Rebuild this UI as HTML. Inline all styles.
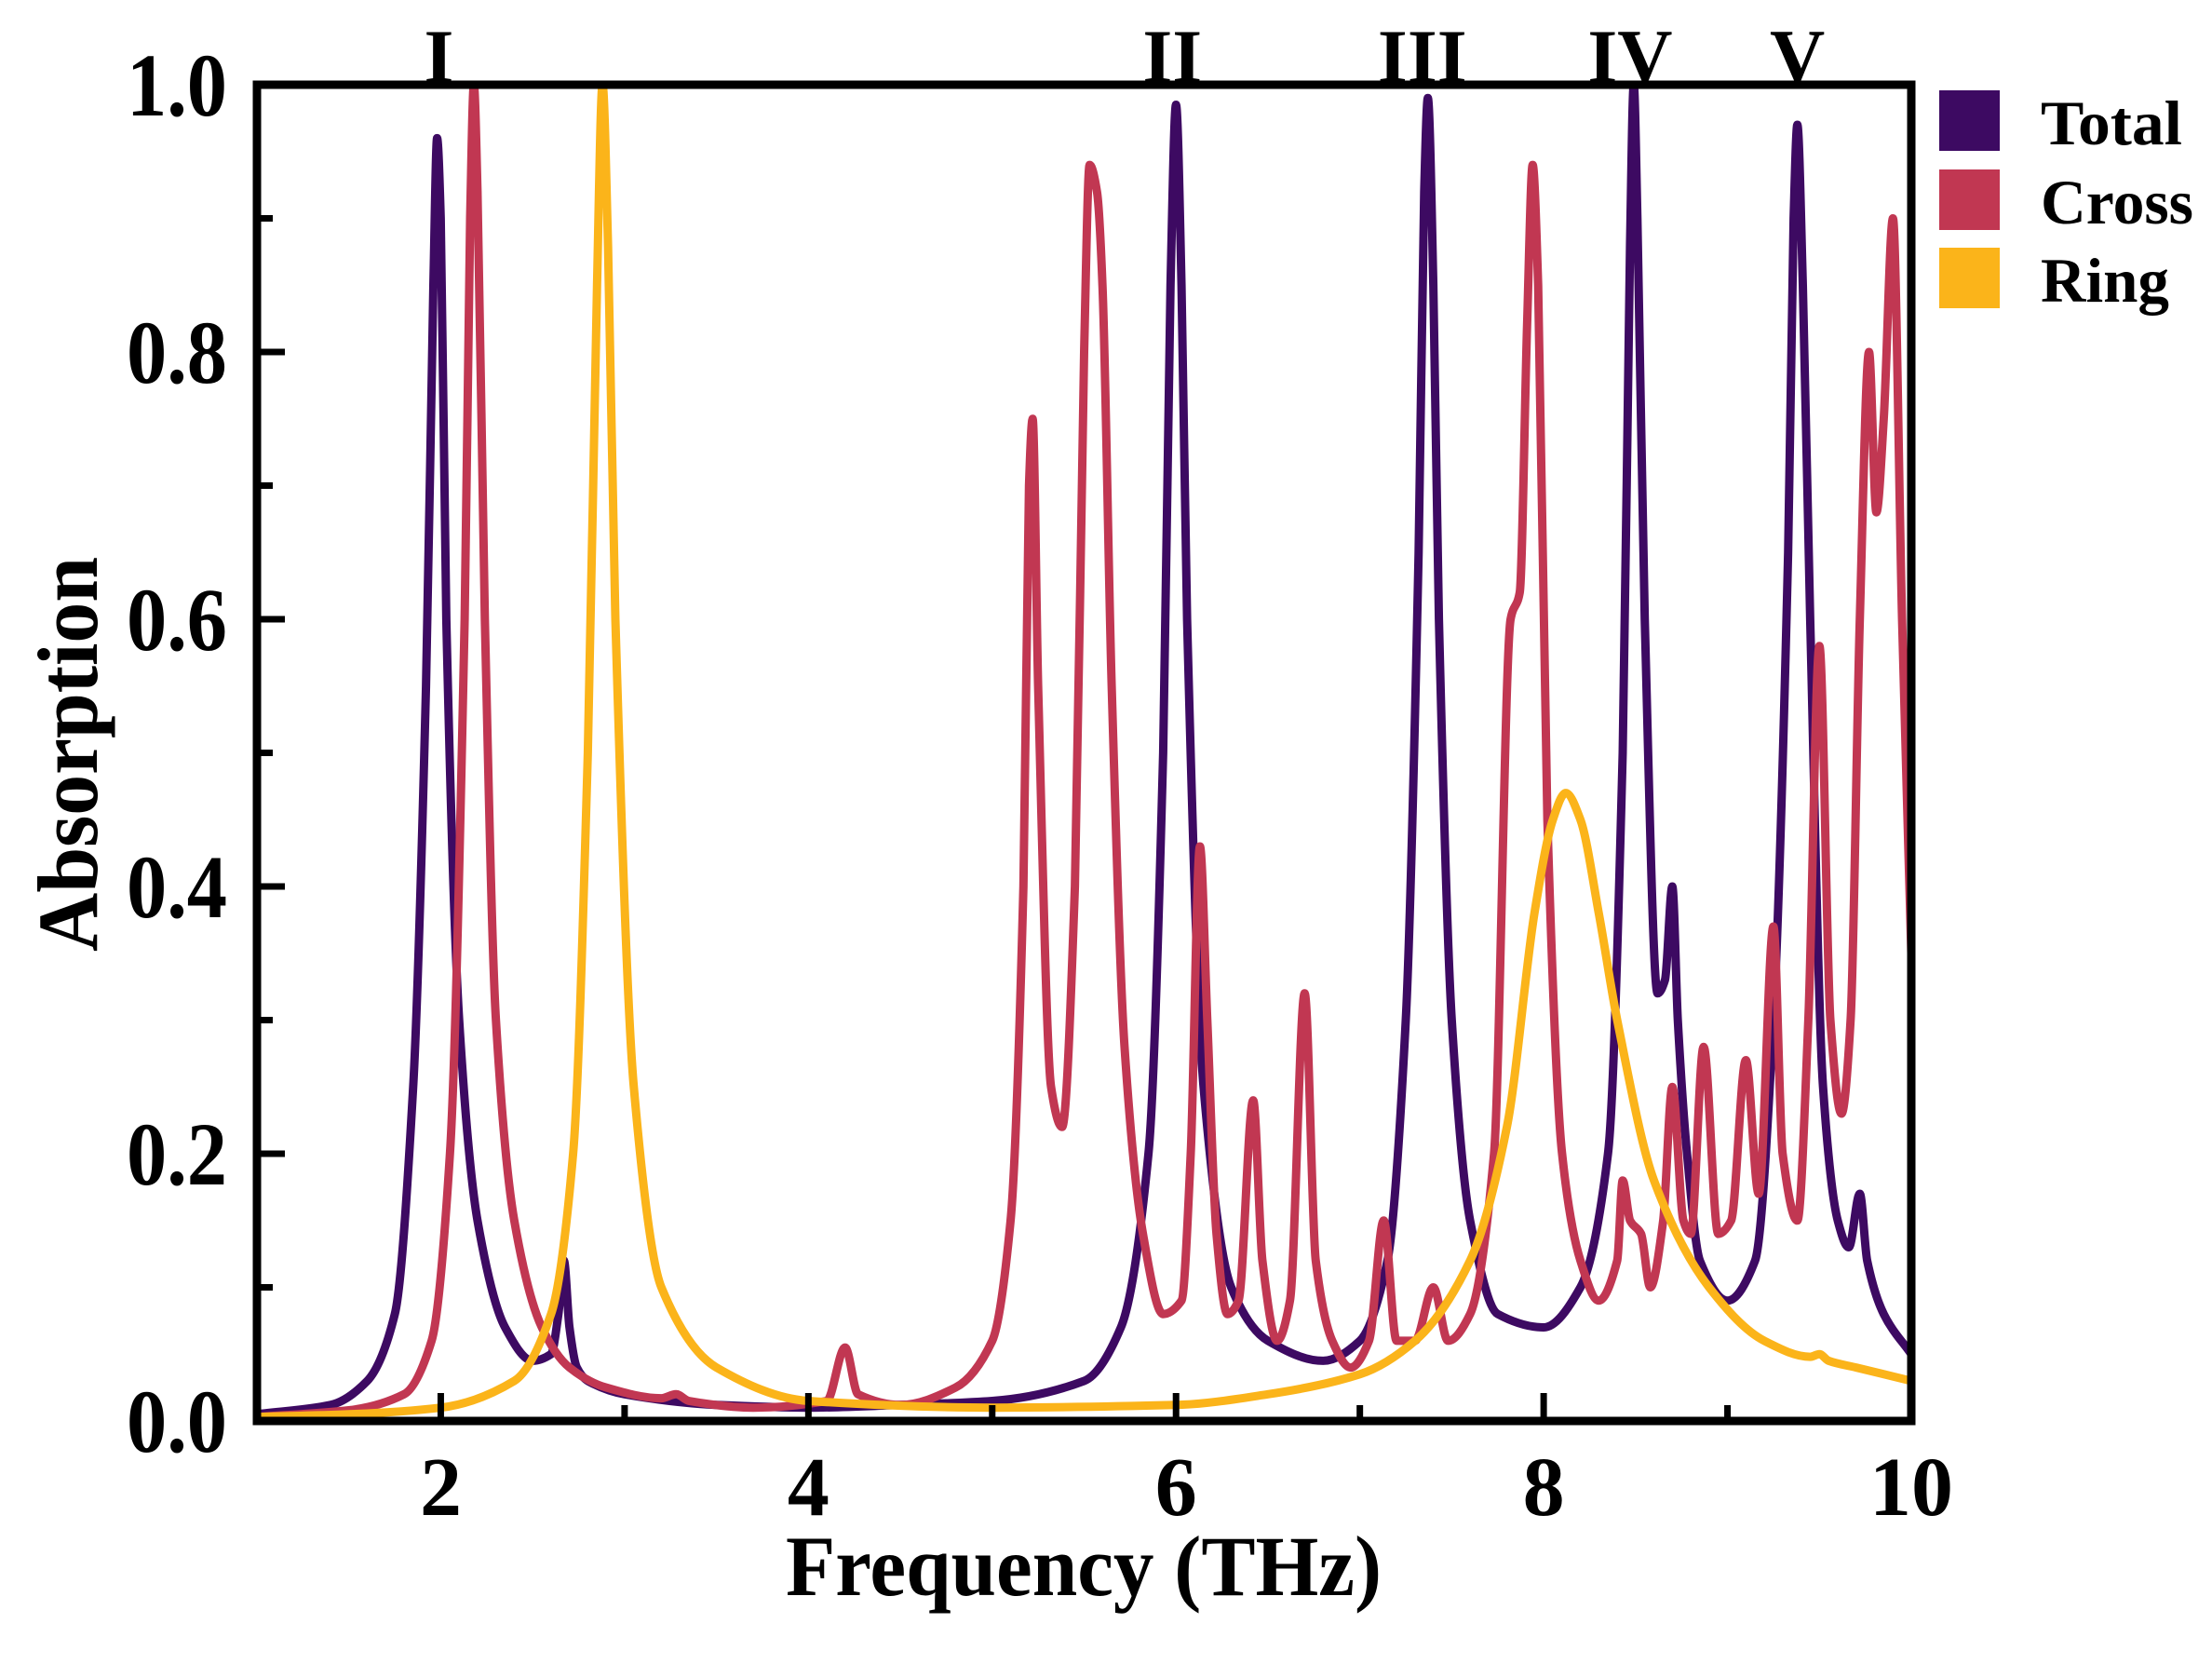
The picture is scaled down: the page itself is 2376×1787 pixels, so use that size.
<!DOCTYPE html>
<html><head><meta charset="utf-8">
<style>html,body{margin:0;padding:0;background:#fff;}svg{display:block;}</style>
</head><body>
<svg id="chart" width="2376" height="1787" viewBox="0 0 2376 1787" xmlns="http://www.w3.org/2000/svg" font-family="'Liberation Serif', serif" font-weight="bold">
<defs><clipPath id="plotclip"><rect x="276" y="91" width="1777" height="1435"/></clipPath></defs>
<g id="series" clip-path="url(#plotclip)"></g>
<g id="axes"></g>
<text x="1164" y="1713" text-anchor="middle" font-size="92" textLength="640" lengthAdjust="spacingAndGlyphs">Frequency (THz)</text>
<text transform="translate(104,810) rotate(-90)" text-anchor="middle" font-size="92" textLength="424" lengthAdjust="spacingAndGlyphs">Absorption</text>
<g id="legend">
<rect x="2083" y="97" width="65" height="65" fill="#3d0a62"/>
<text x="2192" y="155" font-size="68" textLength="152" lengthAdjust="spacingAndGlyphs">Total</text>
<rect x="2083" y="182" width="65" height="65" fill="#c13752"/>
<text x="2192" y="240" font-size="68" textLength="164" lengthAdjust="spacingAndGlyphs">Cross</text>
<rect x="2083" y="266" width="65" height="65" fill="#fbb41a"/>
<text x="2192" y="324" font-size="68" textLength="138" lengthAdjust="spacingAndGlyphs">Ring</text>
</g>
</svg>
<script>
const xTicks = [2, 4, 6, 8, 10];
const xMinor = [1, 3, 5, 7, 9];
const yTicks = [0.0, 0.2, 0.4, 0.6, 0.8, 1.0];
const yTickLabels = ["0.0", "0.2", "0.4", "0.6", "0.8", "1.0"];
const yMinor = [0.1, 0.3, 0.5, 0.7, 0.9];
const modeLabels = ["I", "II", "III", "IV", "V"];
const modeFreqs = [1.99, 5.98, 7.34, 8.47, 9.38];

const totalX = [1.0,1.4,1.6,1.75,1.85,1.92,1.96,1.98,2.0,2.03,2.1,2.2,2.35,2.5,2.6,2.64,2.67,2.7,2.74,2.8,3.0,3.5,4.0,4.5,5.0,5.5,5.7,5.85,5.93,5.97,6.0,6.03,6.06,6.15,6.3,6.5,6.8,7.0,7.15,7.25,7.32,7.35,7.37,7.4,7.43,7.5,7.6,7.75,8.0,8.2,8.35,8.43,8.47,8.49,8.51,8.55,8.62,8.66,8.7,8.73,8.78,8.85,9.0,9.15,9.25,9.33,9.36,9.38,9.41,9.45,9.52,9.6,9.66,9.72,9.76,9.85,10.0];
const totalY = [0.005,0.012,0.03,0.08,0.25,0.55,0.85,0.96,0.9,0.6,0.3,0.15,0.07,0.045,0.05,0.08,0.12,0.07,0.04,0.03,0.02,0.012,0.01,0.012,0.015,0.03,0.07,0.2,0.5,0.85,0.985,0.85,0.6,0.25,0.1,0.06,0.045,0.06,0.12,0.3,0.65,0.92,0.99,0.85,0.6,0.3,0.15,0.08,0.07,0.1,0.2,0.5,0.88,1.0,0.9,0.6,0.32,0.33,0.4,0.3,0.2,0.12,0.09,0.12,0.3,0.65,0.9,0.97,0.85,0.6,0.25,0.15,0.13,0.17,0.12,0.08,0.05];

const crossX = [1.0,1.5,1.8,1.95,2.05,2.13,2.16,2.18,2.2,2.24,2.3,2.4,2.55,2.7,2.9,3.2,3.28,3.35,3.7,4.1,4.2,4.27,4.5,4.8,5.0,5.1,5.17,5.2,5.22,5.25,5.32,5.38,5.45,5.5,5.53,5.57,5.6,5.65,5.72,5.82,5.93,6.03,6.08,6.13,6.17,6.22,6.28,6.34,6.42,6.47,6.55,6.62,6.7,6.76,6.85,6.95,7.05,7.13,7.2,7.3,7.4,7.48,7.6,7.73,7.82,7.87,7.91,7.94,7.97,8.02,8.1,8.2,8.3,8.4,8.43,8.47,8.53,8.58,8.65,8.7,8.76,8.8,8.87,8.95,9.02,9.1,9.17,9.25,9.3,9.38,9.44,9.5,9.56,9.62,9.67,9.72,9.77,9.81,9.85,9.9,9.95,10.0];
const crossY = [0.003,0.008,0.02,0.06,0.2,0.6,0.9,1.0,0.92,0.6,0.3,0.15,0.07,0.04,0.025,0.017,0.02,0.015,0.01,0.015,0.055,0.02,0.012,0.025,0.06,0.15,0.4,0.7,0.75,0.55,0.25,0.22,0.4,0.8,0.94,0.92,0.85,0.55,0.28,0.14,0.08,0.09,0.2,0.43,0.3,0.14,0.08,0.09,0.24,0.12,0.06,0.09,0.32,0.12,0.06,0.04,0.06,0.15,0.06,0.06,0.1,0.06,0.08,0.2,0.6,0.62,0.82,0.94,0.85,0.45,0.2,0.12,0.09,0.12,0.18,0.15,0.14,0.1,0.15,0.25,0.15,0.14,0.28,0.14,0.15,0.27,0.17,0.37,0.2,0.15,0.3,0.58,0.3,0.23,0.3,0.6,0.8,0.68,0.75,0.9,0.6,0.35];

const ringX = [1.0,1.5,2.0,2.4,2.6,2.72,2.8,2.85,2.88,2.91,2.95,3.05,3.2,3.5,4.0,5.0,6.0,6.5,7.0,7.3,7.6,7.8,7.95,8.05,8.12,8.2,8.3,8.4,8.6,8.9,9.2,9.45,9.5,9.55,9.7,10.0];
const ringY = [0.003,0.005,0.01,0.03,0.08,0.2,0.5,0.85,1.0,0.88,0.6,0.25,0.1,0.04,0.015,0.01,0.012,0.02,0.035,0.06,0.12,0.22,0.38,0.45,0.47,0.45,0.38,0.3,0.18,0.1,0.06,0.048,0.05,0.045,0.04,0.03];

const X0 = 276, X1 = 2053, Y0 = 1526, Y1 = 91;
function sx(v){ return X0 + (v - 1) / 9 * (X1 - X0); }
function sy(v){ return Y0 - v * (Y0 - Y1); }
const NS = "http://www.w3.org/2000/svg";

function monoPath(xs, ys){
  const n = xs.length, px = xs.map(sx), py = ys.map(sy);
  const d = [], m = new Array(n);
  for (let i = 0; i < n - 1; i++) d.push((py[i+1]-py[i])/(px[i+1]-px[i]));
  m[0] = d[0]; m[n-1] = d[n-2];
  for (let i = 1; i < n - 1; i++) m[i] = (d[i-1]*d[i] <= 0) ? 0 : (2/(1/d[i-1]+1/d[i]));
  let s = "M" + px[0].toFixed(1) + "," + py[0].toFixed(1);
  for (let i = 0; i < n - 1; i++) {
    const h = px[i+1]-px[i];
    s += " C" + (px[i]+h/3).toFixed(1) + "," + (py[i]+m[i]*h/3).toFixed(1) + " " + (px[i+1]-h/3).toFixed(1) + "," + (py[i+1]-m[i+1]*h/3).toFixed(1) + " " + px[i+1].toFixed(1) + "," + py[i+1].toFixed(1);
  }
  return s;
}
const series = document.getElementById('series');
function addLine(xs, ys, color, name){
  const p = document.createElementNS(NS, 'path');
  p.setAttribute('d', monoPath(xs, ys));
  p.setAttribute('fill', 'none');
  p.setAttribute('stroke', color);
  p.setAttribute('stroke-width', '9');
  p.setAttribute('stroke-linejoin', 'round');
  
  
  series.appendChild(p);
}
addLine(totalX, totalY, '#3d0a62', 'total-line');
addLine(crossX, crossY, '#c13752', 'cross-line');
addLine(ringX, ringY, '#fbb41a', 'ring-line');

const axes = document.getElementById('axes');
function mk(tag, attrs){ const e = document.createElementNS(NS, tag); for (const k in attrs) e.setAttribute(k, attrs[k]); axes.appendChild(e); return e; }
const frame = mk('rect', {x: X0, y: Y1, width: X1 - X0, height: Y0 - Y1, fill: 'none', stroke: '#000', 'stroke-width': 9});


xTicks.forEach(v => {
  const t = mk('line', {x1: sx(v), x2: sx(v), y1: Y0, y2: Y0 - 30, stroke: '#000', 'stroke-width': 7});
  
  
  const l = mk('text', {x: sx(v), y: 1627, 'text-anchor': 'middle', 'font-size': 90});
  l.textContent = String(v);
  
  
});
xMinor.forEach(v => {
  const t = mk('line', {x1: sx(v), x2: sx(v), y1: Y0, y2: Y0 - 17, stroke: '#000', 'stroke-width': 7});
  
  
});
yTicks.forEach((v, i) => {
  const t = mk('line', {x1: X0, x2: X0 + 30, y1: sy(v), y2: sy(v), stroke: '#000', 'stroke-width': 7});
  
  
  const l = mk('text', {x: 244, y: sy(v) + 33, 'text-anchor': 'end', 'font-size': 96, textLength: 108, lengthAdjust: 'spacingAndGlyphs'});
  l.textContent = yTickLabels[i];
  
  
});
yMinor.forEach(v => {
  const t = mk('line', {x1: X0, x2: X0 + 17, y1: sy(v), y2: sy(v), stroke: '#000', 'stroke-width': 7});
  
  
});
modeLabels.forEach((s, i) => {
  const l = mk('text', {x: sx(modeFreqs[i]), y: 88, 'text-anchor': 'middle', 'font-size': 82});
  l.textContent = s;
  
  
});
</script>
</body></html>
